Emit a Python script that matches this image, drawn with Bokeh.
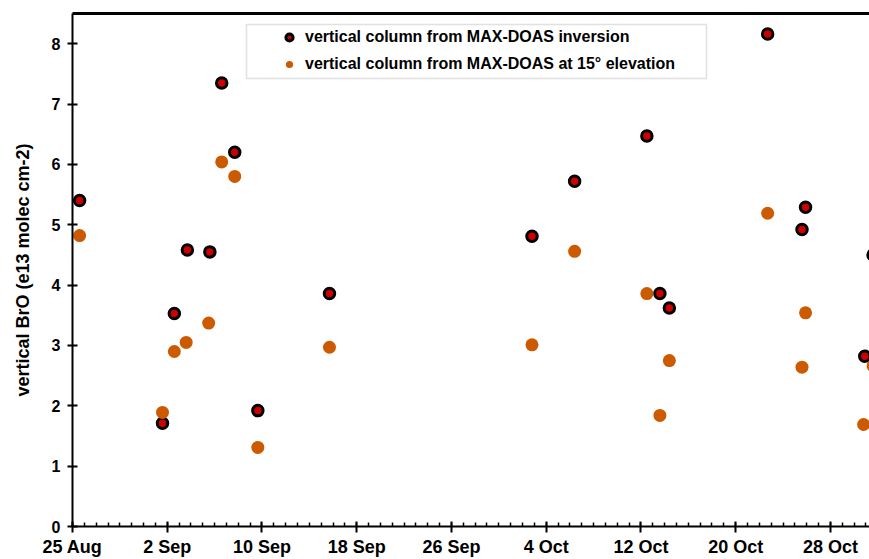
from bokeh.plotting import figure
from bokeh.models import (FixedTicker, Legend, LegendItem, BoxAnnotation, LinearAxis,
                          Range1d, ColumnDataSource)
from bokeh.embed import file_html
from bokeh.resources import INLINE

# days since 25 Aug (00:00)
inv_day = [0.6, 7.6, 8.6, 9.7, 11.6, 12.6, 13.7, 15.65, 21.7, 38.8, 42.4, 48.5, 49.6, 50.4,
           58.7, 61.9, 61.6, 66.9, 67.6]
inv_vc = [5.40, 1.71, 3.53, 4.58, 4.55, 7.35, 6.20, 1.92, 3.86, 4.81, 5.72, 6.47, 3.86, 3.62,
          8.16, 5.29, 4.92, 2.82, 4.50]

elev_day = [0.6, 7.6, 8.6, 9.6, 11.5, 12.6, 13.7, 15.65, 21.7, 38.8, 42.4, 48.5, 49.6, 50.4,
            58.7, 61.9, 61.6, 66.8, 67.6]
elev_vc = [4.82, 1.89, 2.90, 3.05, 3.37, 6.04, 5.80, 1.31, 2.97, 3.01, 4.56, 3.86, 1.84, 2.75,
           5.19, 3.54, 2.64, 1.69, 2.66]

tick_days = [0, 8, 16, 24, 32, 40, 48, 56, 64]
tick_labels = ["25 Aug", "2 Sep", "10 Sep", "18 Sep", "26 Sep", "4 Oct", "12 Oct", "20 Oct", "28 Oct"]
y_ticks = [0, 1, 2, 3, 4, 5, 6, 7, 8]

FONT = "Liberation Sans"

p = figure(width=869, height=559, output_backend="svg", toolbar_location=None,
           x_range=Range1d(0, 67.3), y_range=Range1d(0, 8.5),
           min_border_left=72, min_border_right=0, min_border_top=13, min_border_bottom=33)
p.outline_line_color = None
p.grid.visible = False
p.background_fill_color = "white"
p.border_fill_color = "white"

inv_src = ColumnDataSource(dict(x=inv_day, y=inv_vc))
elev_src = ColumnDataSource(dict(x=elev_day, y=elev_vc))

r_inv = p.scatter("x", "y", source=inv_src, size=10.5, fill_color="#cc0000",
                  line_color="black", line_width=3)
r_elev = p.scatter("x", "y", source=elev_src, size=13, fill_color="#cc5a00",
                   line_color=None)

xa = p.xaxis[0]
xa.ticker = FixedTicker(ticks=tick_days, minor_ticks=list(range(0, 68)))
xa.major_label_overrides = {d: l for d, l in zip(tick_days, tick_labels)}
xa.axis_line_width = 2
xa.major_tick_line_width = 2
xa.minor_tick_line_width = 1.5
xa.major_tick_in = 5
xa.major_tick_out = 6
xa.minor_tick_in = 4
xa.minor_tick_out = 0
xa.major_label_standoff = 4
xa.major_label_text_font = FONT
xa.major_label_text_font_style = "bold"
xa.major_label_text_font_size = "18px"
xa.major_label_text_color = "black"

ya = p.yaxis[0]
ya.ticker = FixedTicker(ticks=y_ticks)
ya.minor_tick_line_color = None
ya.axis_line_width = 2
ya.major_tick_line_width = 2
ya.major_tick_in = 5
ya.major_tick_out = 5
ya.major_label_standoff = 7
ya.major_label_text_font = FONT
ya.major_label_text_font_style = "bold"
ya.major_label_text_font_size = "16px"
ya.major_label_text_color = "black"
ya.axis_label = "vertical BrO (e13 molec cm-2)"
ya.axis_label_text_font = FONT
ya.axis_label_text_font_style = "bold"
ya.axis_label_text_font_size = "18px"
ya.axis_label_text_color = "black"
ya.axis_label_standoff = 16

top = LinearAxis(ticker=FixedTicker(ticks=[]), axis_line_width=3, axis_line_color="black",
                 major_tick_line_color=None, minor_tick_line_color=None,
                 major_label_text_font_size="0px")
p.add_layout(top, "above")

box = BoxAnnotation(left=174, right=634, top=502, bottom=448,
                    left_units="screen", right_units="screen",
                    top_units="screen", bottom_units="screen",
                    fill_color="white", fill_alpha=1.0,
                    line_color="#9a9a9a", line_width=1.5)
p.add_layout(box)

legend = Legend(items=[LegendItem(label="vertical column from MAX-DOAS inversion", renderers=[r_inv]),
                       LegendItem(label="vertical column from MAX-DOAS at 15° elevation", renderers=[r_elev])],
                location=(208, 453), padding=0, margin=0, spacing=9,
                glyph_width=18, glyph_height=18, label_height=18, label_standoff=7,
                border_line_color=None, background_fill_alpha=0.0,
                label_text_font=FONT, label_text_font_style="bold",
                label_text_font_size="16px", label_text_color="black")
p.add_layout(legend)

open("out.html", "w").write(file_html(p, INLINE))
